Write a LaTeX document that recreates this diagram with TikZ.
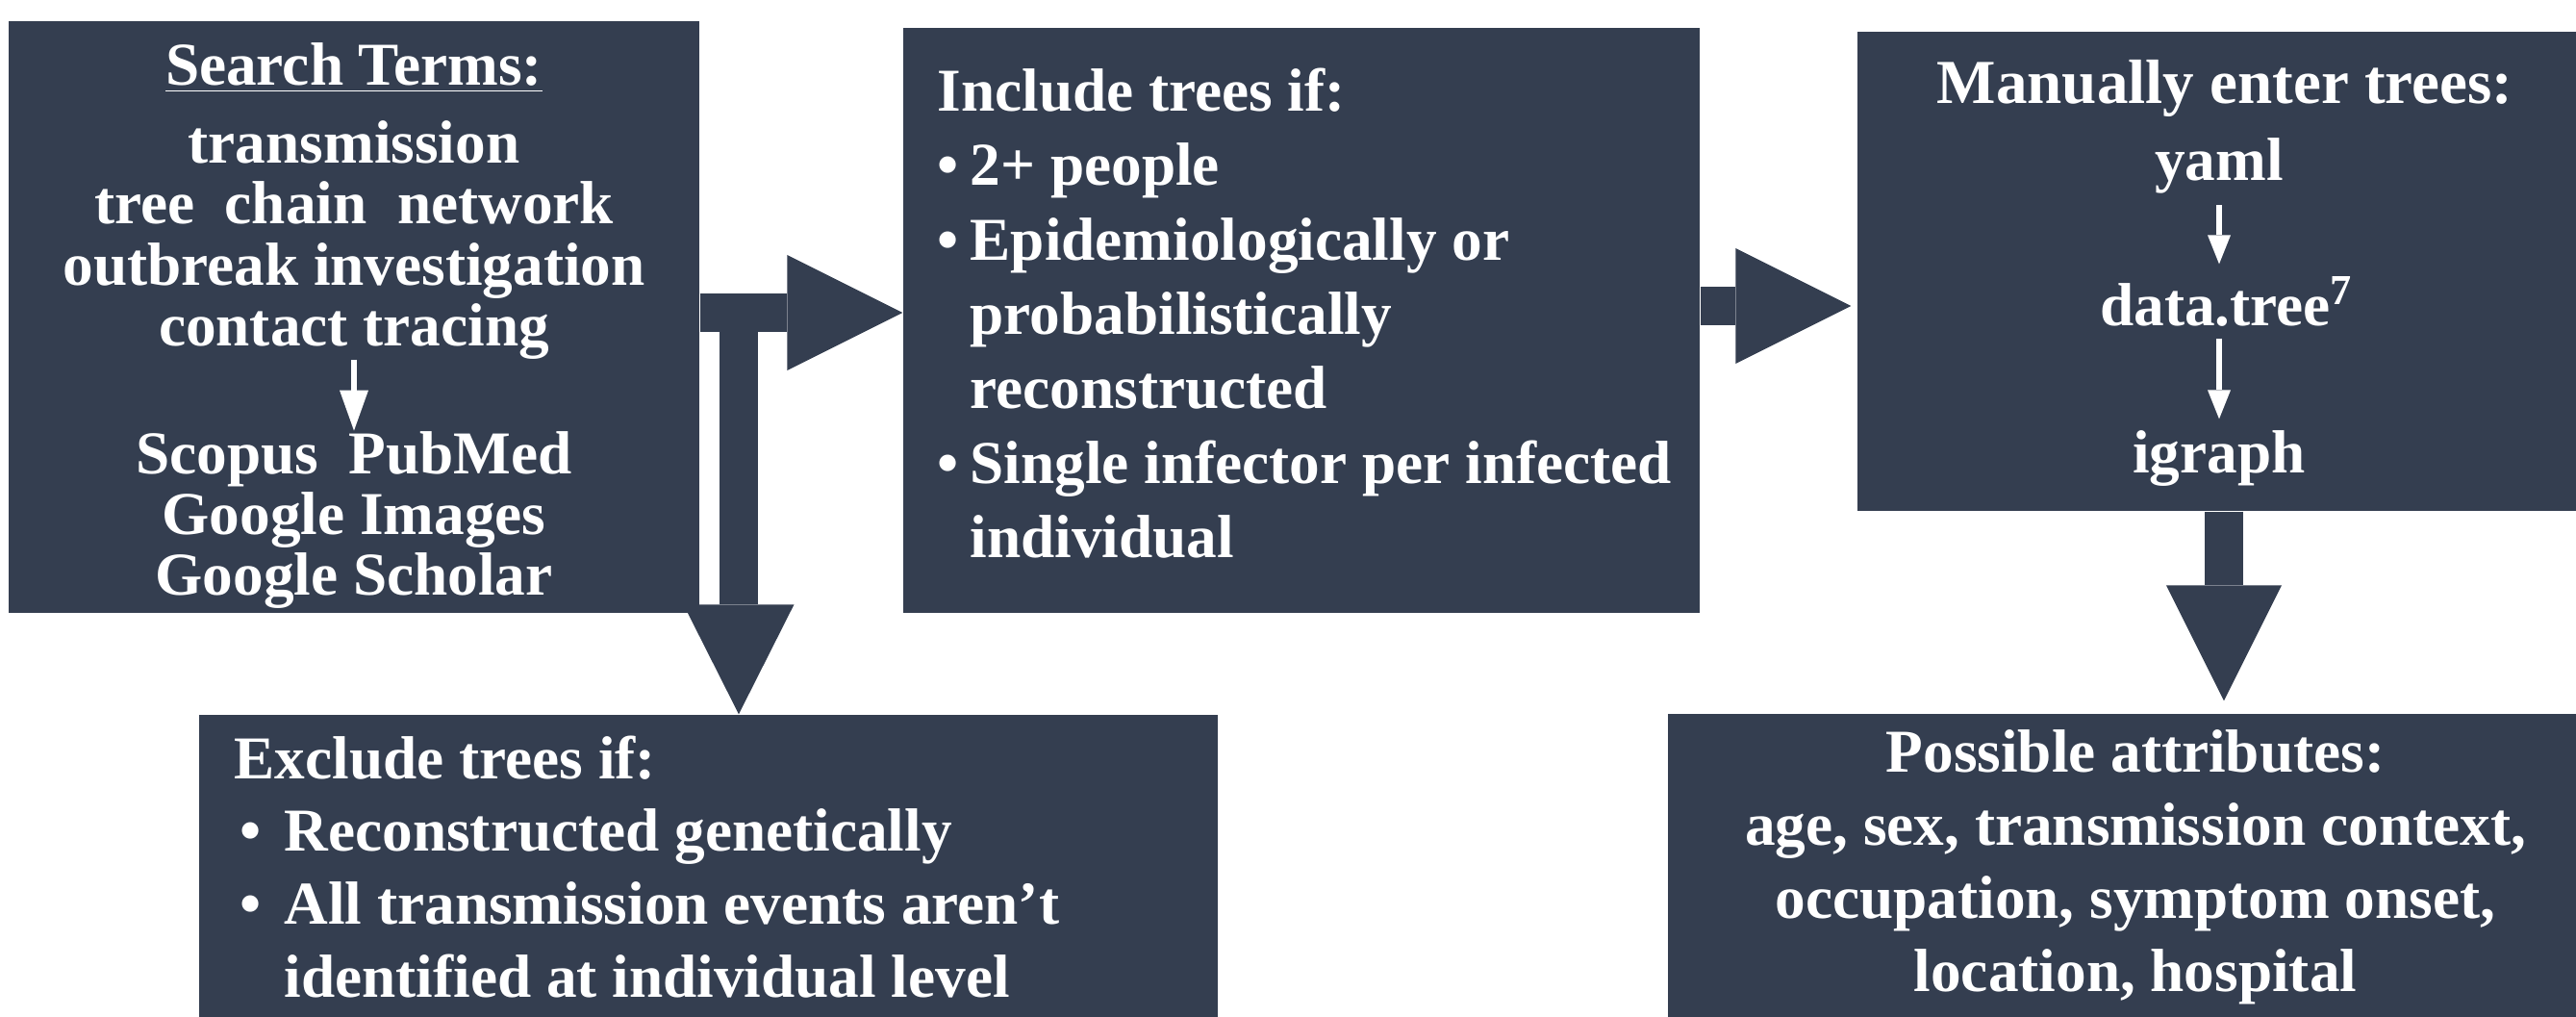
\documentclass[tikz,border=0pt]{standalone}
\usepackage{fontspec}
\setmainfont{Liberation Serif}
\usepackage{tikz}
\usetikzlibrary{arrows.meta, positioning, calc}
\definecolor{treeslate}{RGB}{52, 62, 80}
\newcommand{\listdot}[1]{\makebox[#1][l]{\textbullet}}

\begin{document}
\begin{tikzpicture}[
    every node/.style={font=\bfseries\fontsize{18}{22}\selectfont, text=white, inner sep=0pt},
    panel/.style={rectangle, fill=treeslate, draw=none, inner sep=0pt},
    bigarrow/.style={draw=treeslate, line width=0.4cm, -{Triangle[length=1.2cm, width=1.2cm, line width=0pt]}},
    pointer/.style={draw=white, line width=0.06cm, -{Triangle[length=0.42cm, width=0.3cm, line width=0pt]}},
    thinpointer/.style={draw=white, line width=0.055cm, -{Triangle[length=0.3cm, width=0.24cm, line width=0pt]}}
]
\useasboundingbox (0, 0) rectangle (26.78, -10.57);

\node[panel, minimum width=7.18cm, minimum height=6.15cm] (search) at (3.68, -3.295) {};
\node[panel, minimum width=8.28cm, minimum height=6.08cm] (include) at (13.53, -3.33) {};
\node[panel, minimum width=7.47cm, minimum height=4.98cm] (manual) at (23.045, -2.82) {};
\node[panel, minimum width=10.59cm, minimum height=3.14cm] (exclude) at (7.365, -9.0) {};
\node[panel, minimum width=9.44cm, minimum height=3.15cm] (attributes) at (22.06, -8.995) {};

\coordinate (split) at (7.68, -3.25);
\coordinate (feed) at (18.36, -3.18);
\coordinate (drop) at (23.12, -6.0);
\draw[bigarrow] (search.east |- split) -- (include.west |- split);
\draw[bigarrow, -{Triangle[length=1.14cm, width=1.15cm, line width=0pt]}] (split) -- (split |- exclude.north);
\draw[bigarrow, shorten >=0.06cm] (include.east |- feed) -- (manual.west |- feed);
\draw[bigarrow, shorten >=0.13cm] (manual.south -| drop) -- (attributes.north -| drop);

\node[align=center, font=\bfseries\fontsize{18}{18}\selectfont] (terms) at (3.68, -2.09) {\underline{Search Terms:}\\[5pt] transmission\\ tree\ \ chain\ \ network\\ outbreak investigation\\ contact tracing};
\node[align=center, font=\bfseries\fontsize{18}{18}\selectfont] (databases) at (3.68, -5.405) {Scopus\ \ PubMed\\ Google Images\\ Google Scholar};
\draw[pointer] (terms) -- (databases);

\node[align=left, anchor=west] (inctext) at (9.74, -3.255) {Include trees if:\\ \listdot{0.34cm}2+ people\\ \listdot{0.34cm}Epidemiologically or\\ \hspace*{0.34cm}probabilistically\\ \hspace*{0.34cm}reconstructed\\ \listdot{0.34cm}Single infector per infected\\ \hspace*{0.34cm}individual};

\node[font=\bfseries\fontsize{18.5}{22}\selectfont] (mantitle) at (23.13, -0.92) {Manually enter trees:};
\node[inner sep=0.12cm] (yaml) at (23.07, -1.72) {yaml};
\node[inner sep=0.12cm] (datatree) at (23.15, -3.13) {data.tree\textsuperscript{7}};
\node[inner sep=0.12cm] (igraph) at (23.07, -4.77) {igraph};
\draw[thinpointer] (yaml.south) -- (yaml.south |- datatree.north);
\draw[thinpointer] (datatree.south -| igraph) -- (igraph.north);

\node[align=left, anchor=west, font=\bfseries\fontsize{18}{21.6}\selectfont] (exctext) at (2.43, -9.01) {Exclude trees if:\\ \hspace*{0.06cm}\listdot{0.46cm}Reconstructed genetically\\ \hspace*{0.06cm}\listdot{0.46cm}All transmission events aren’t\\ \hspace*{0.52cm}identified at individual level};

\node[align=center, font=\bfseries\fontsize{18}{21.6}\selectfont] (atttext) at (22.2, -9.01) {Possible attributes:\\ age, sex, transmission context,\\ occupation, symptom onset,\\ location, hospital};
\end{tikzpicture}
\end{document}
